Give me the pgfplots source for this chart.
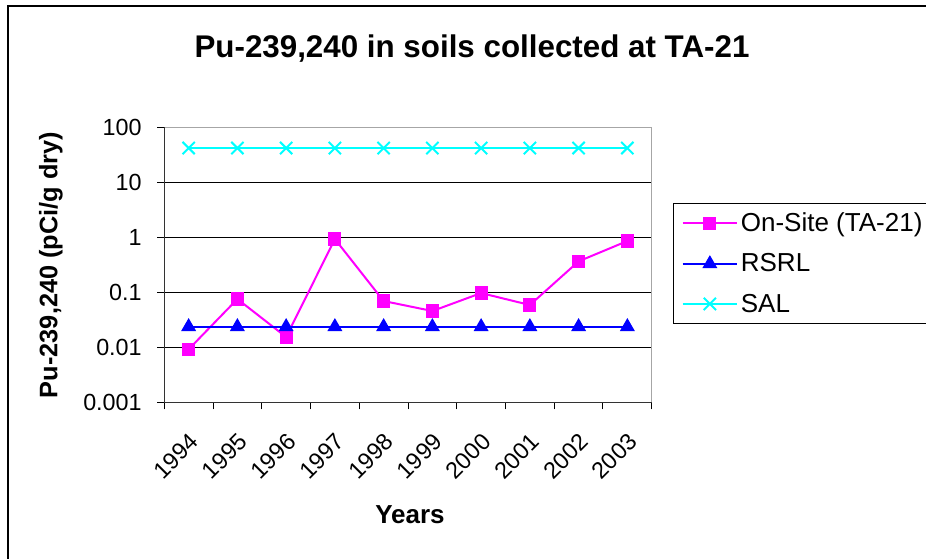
\documentclass[border=0pt]{standalone}
\usepackage{pgfplots}
\pgfplotsset{compat=1.18}
\usepackage{fontspec}
\setmainfont{Liberation Sans}
\definecolor{onsite}{RGB}{255,0,255}
\definecolor{rsrl}{RGB}{0,0,255}
\definecolor{sal}{RGB}{0,255,255}
\begin{document}
\begin{tikzpicture}
\useasboundingbox (0,0) rectangle (694.5pt,419.25pt);
\draw[line width=1.2pt,black] (6pt,-2pt) -- (6pt,414.75pt) -- (700pt,414.75pt);
\begin{axis}[
  at={(123.2pt,117.5pt)}, anchor=south west,
  scale only axis, width=365.6pt, height=206.25pt,
  ymode=log, ymin=0.001, ymax=100,
  xmin=-0.5, xmax=9.5,
  xtick={0,...,9},
  xticklabels={1994,1995,1996,1997,1998,1999,2000,2001,2002,2003},
  minor xtick={-0.5,0.5,...,9.5},
  major x tick style={draw=none},
  xtick pos=bottom, ytick pos=left,
  ytick={0.001,0.01,0.1,1,10,100},
  yticklabels={0.001,0.01,0.1,1,10,100},
  yminorticks=false,
  ymajorgrids=true,
  major grid style={black, line width=0.75pt},
  tick align=outside,
  major tick length=5.25pt, minor tick length=5.25pt,
  every tick/.style={black, line width=0.75pt},
  axis line style={gray!70, line width=0.75pt},
  ticklabel style={font=\fontsize{17.5}{20}\selectfont},
  /pgf/number format/assume math mode=true,
  xticklabel style={rotate=45, anchor=east, inner sep=0pt, xshift=-12pt, yshift=-18pt, font=\fontsize{17.5}{20}\selectfont},
  yticklabel style={inner sep=0pt, xshift=-11.5pt},
  legend style={at={(1.0437,0.7247)}, anchor=north west, draw=black, line width=0.75pt, fill=white,
    font=\fontsize{19.5}{22}\selectfont, row sep=11pt, inner xsep=6pt, inner ysep=5pt,
    legend cell align=left},
  legend image code/.code={\draw[mark repeat=2,mark phase=2] plot coordinates {(0pt,0pt) (20.5pt,0pt) (41pt,0pt)};},
  clip=false,
]
\addplot[onsite, line width=1.5pt, mark=square*, mark size=4.2pt, mark options={solid}] coordinates {
(0,0.0092) (1,0.0755) (2,0.0154) (3,0.93) (4,0.0695) (5,0.0457) (6,0.097) (7,0.0588) (8,0.366) (9,0.857)};
\addlegendentry{On-Site (TA-21)}
\addplot[rsrl, line width=1.5pt, mark=triangle*, mark size=5pt] coordinates {
(0,0.0237) (1,0.0237) (2,0.0237) (3,0.0237) (4,0.0237) (5,0.0237) (6,0.0237) (7,0.0237) (8,0.0237) (9,0.0237)};
\addlegendentry{RSRL}
\addplot[sal, line width=1.5pt, mark=x, mark size=6.5pt, mark options={line width=1.5pt}] coordinates {
(0,42) (1,42) (2,42) (3,42) (4,42) (5,42) (6,42) (7,42) (8,42) (9,42)};
\addlegendentry{SAL}
\draw[black!80, line width=1pt] (rel axis cs:0,1) -- (rel axis cs:0,0) -- (rel axis cs:1,0);
\end{axis}
\node[anchor=base, font=\bfseries\fontsize{23.5}{26}\selectfont] at (354pt,375.75pt) {Pu-239,240 in soils collected at TA-21};
\node[anchor=base, font=\bfseries\fontsize{19.5}{22}\selectfont] at (307.5pt,26.25pt) {Years};
\node[anchor=base, rotate=90, font=\bfseries\fontsize{19}{22}\selectfont] at (43pt,220.5pt) {Pu-239,240 (pCi/g dry)};
\end{tikzpicture}
\end{document}
